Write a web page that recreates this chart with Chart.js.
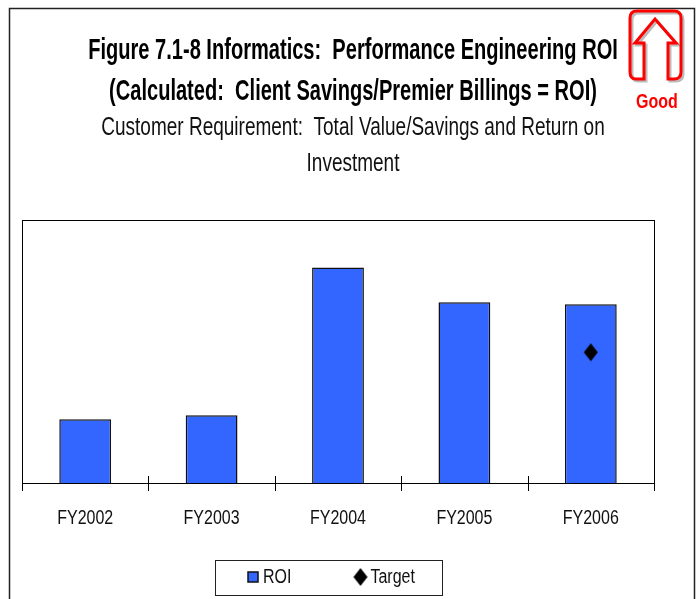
<!DOCTYPE html>
<html><head><meta charset="utf-8">
<style>html,body{margin:0;padding:0;background:#fff}canvas{display:block}</style>
<script src="https://cdn.jsdelivr.net/npm/chart.js@4"></script>
</head><body><canvas id="c" width="700" height="599"></canvas>
<script>
const categories = ["FY2002","FY2003","FY2004","FY2005","FY2006"];
const roiValues = [6.4,6.8,21.6,18.1,17.9];
const targetValues = [null,null,null,null,13.1];
const titleLines = ["Figure 7.1-8 Informatics:  Performance Engineering ROI","(Calculated:  Client Savings/Premier Billings = ROI)"];
const subtitleLines = ["Customer Requirement:  Total Value/Savings and Return on","Investment"];
const FONT = '"Liberation Sans",Arial,sans-serif';

const canvas = document.getElementById('c');
const ctx0 = canvas.getContext('2d');
// Reference text is horizontally condensed Arial: squeeze all text about its anchor.
const squeeze = () => {
  const m = /([\d.]+)px/.exec(ctx0.font), s = m ? parseFloat(m[1]) : 20;
  return s > 28 ? 0.685 : s > 22 ? 0.76 : 0.8;
};
const origFill = ctx0.fillText.bind(ctx0), origMeasure = ctx0.measureText.bind(ctx0);
ctx0.fillText = function(t,x,y,mw){
  const k = squeeze();
  ctx0.save(); ctx0.translate(x,y); ctx0.scale(k,1);
  if(mw===undefined) origFill(t,0,0); else origFill(t,0,0,mw/k);
  ctx0.restore();
};
ctx0.measureText = function(t){
  const m=origMeasure(t), k=squeeze();
  return {width:m.width*k,actualBoundingBoxAscent:m.actualBoundingBoxAscent,actualBoundingBoxDescent:m.actualBoundingBoxDescent};
};

const diamond = document.createElement('canvas');
diamond.width = 16; diamond.height = 20;
(function(){const d=diamond.getContext('2d');d.fillStyle='#000';d.beginPath();d.moveTo(8,1);d.lineTo(15,10);d.lineTo(8,19);d.lineTo(1,10);d.closePath();d.fill();})();

const LEGEND_PAD = 69;
const decor = {
  id:'decor',
  beforeLayout(chart){
    const l = chart.legend;
    if(!l._wrapped){
      const f = l.fit;
      l.fit = function(){ f.call(this); this.height = 1; };
      l._wrapped = true;
    }
  },
  afterLayout(chart){
    const l = chart.legend;
    l.left=253-LEGEND_PAD; l.right=700; l.width=l.right-l.left; l.top=567-LEGEND_PAD; l.bottom=599; l.height=l.bottom-l.top;
    for(const b of [chart.titleBlock, chart.boxes.find(x=>x!==chart.titleBlock && x.options && x.options.text===subtitleLines)]){
      if(b){ b.left=22; b.right=684; b.width=662; }
    }
  },
  beforeDraw(chart){
    const c=chart.ctx; c.save();
    c.fillStyle='#fff'; c.fillRect(0,0,700,599);
    c.strokeStyle='#222'; c.lineWidth=1.5;
    c.beginPath(); c.moveTo(9.5,599); c.lineTo(9.5,8.5); c.lineTo(694.5,8.5); c.lineTo(694.5,599); c.stroke();
    c.restore();
  },
  afterDraw(chart){
    const c=chart.ctx, a=chart.chartArea, s=chart.scales.x; c.save();
    c.strokeStyle='#000'; c.lineWidth=1;
    c.strokeRect(Math.round(a.left)+.5,Math.round(a.top)+.5,Math.round(a.width),Math.round(a.height));
    const n=categories.length; c.beginPath();
    for(let i=0;i<=n;i++){
      const x=Math.round(s.left+i*s.width/n)+.5;
      c.moveTo(x,(i===0||i===n)?a.bottom:a.bottom-7); c.lineTo(x,a.bottom+8);
    }
    c.stroke();
    // legend frame
    c.strokeStyle='#222'; c.strokeRect(215.5,560.5,227,35);
    // "Good" icon
    const icon=(col,dx,dy)=>{
      c.strokeStyle=col; c.lineWidth=3; c.lineJoin='miter';
      c.beginPath();
      c.moveTo(644+dx,79+dy); c.lineTo(636+dx,79+dy);
      c.quadraticCurveTo(630+dx,79+dy,630+dx,72+dy); c.lineTo(630+dx,18+dy);
      c.quadraticCurveTo(630+dx,11+dy,637+dx,11+dy); c.lineTo(674+dx,11+dy);
      c.quadraticCurveTo(681+dx,11+dy,681+dx,18+dy); c.lineTo(681+dx,72+dy);
      c.quadraticCurveTo(681+dx,79+dy,674+dx,79+dy); c.lineTo(668+dx,79+dy);
      c.lineTo(668+dx,43+dy); c.lineTo(676+dx,43+dy); c.lineTo(655+dx,19+dy);
      c.lineTo(635+dx,43+dy); c.lineTo(644+dx,43+dy); c.closePath();
      c.stroke();
    };
    icon('#bbb',2,2); icon('#f00',0,0);
    c.fillStyle='#f00'; c.font='bold 20px '+FONT; c.textAlign='center'; c.textBaseline='middle';
    c.fillText('Good',657,102);
    c.restore();
  }
};

new Chart(canvas,{
  data:{labels:categories,datasets:[
    {type:'line',label:'Target',data:targetValues,showLine:false,pointStyle:diamond,pointRadius:9,pointHoverRadius:9,borderColor:'#000',backgroundColor:'#000',order:0},
    {type:'bar',label:'ROI',data:roiValues,backgroundColor:'#3366ff',borderColor:'#111',borderWidth:1.5,barPercentage:.41,categoryPercentage:1,pointStyle:'rect',order:1}
  ]},
  options:{
    responsive:false,animation:false,
    layout:{padding:{left:22,right:46,top:0,bottom:53}},
    plugins:{
      tooltip:{enabled:false},
      title:{display:true,text:titleLines,color:'#000',font:{family:FONT,size:29.3,weight:'bold',lineHeight:1.4},padding:{top:30,bottom:0}},
      subtitle:{display:true,text:subtitleLines,color:'#111',font:{family:FONT,size:25,weight:'normal',lineHeight:1.45},padding:{top:-2,bottom:37}},
      legend:{position:'bottom',align:'start',reverse:true,labels:{usePointStyle:true,boxWidth:0.01,boxHeight:10,color:'#111',font:{family:FONT,size:20},padding:LEGEND_PAD}}
    },
    scales:{
      x:{offset:true,grid:{display:false},border:{display:false},ticks:{color:'#111',font:{family:FONT,size:20},padding:15,maxRotation:0}},
      y:{display:false,min:0,max:26.4}
    }
  },
  plugins:[decor]
});
</script></body></html>
